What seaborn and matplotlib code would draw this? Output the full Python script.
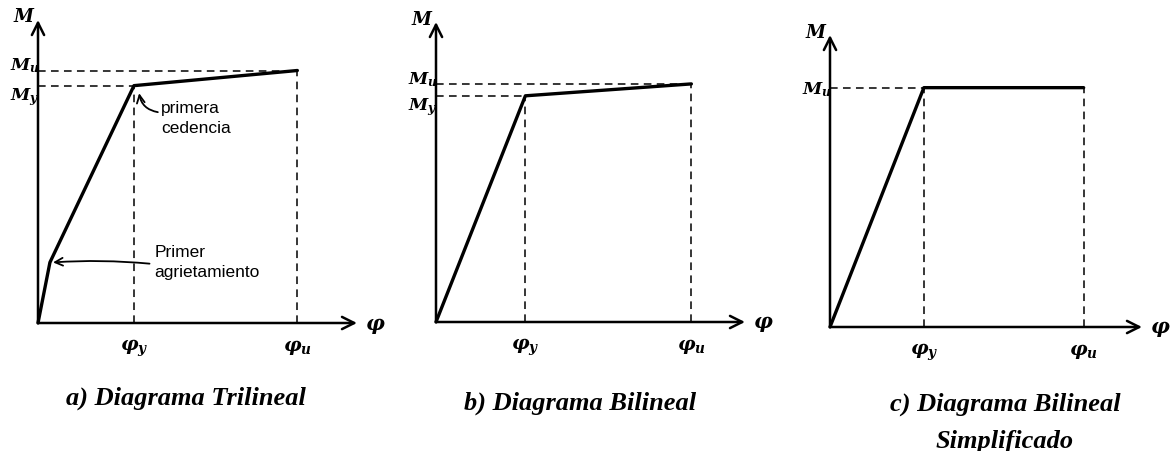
import matplotlib
matplotlib.use("Agg")
import matplotlib.pyplot as plt
from matplotlib.patches import FancyArrowPatch
import seaborn as sns

# curvatura (normalizada con phi_u = 1) y momento (normalizado con M_u = 1)
phi_a = [0, 0.046, 0.37, 1.0]
M_a = [0, 0.24, 0.94, 1.0]
phi_b = [0, 0.35, 1.0]
M_b = [0, 0.95, 1.0]
phi_c = [0, 0.37, 1.0]
M_c = [0, 1.0, 1.0]

xticklabels = [r'$\varphi_y$', r'$\varphi_u$']
yticklabels_ab = [r'$M_y$', r'$M_u$']
yticklabels_c = [r'$M_u$']
titles = ['a) Diagrama Trilineal', 'b) Diagrama Bilineal',
          'c) Diagrama Bilineal\nSimplificado']

sns.set_style('white')
plt.rcParams['font.family'] = ['Liberation Sans', 'DejaVu Sans']
plt.rcParams['mathtext.fontset'] = 'custom'
plt.rcParams['mathtext.it'] = 'DejaVu Serif:italic:bold'
plt.rcParams['mathtext.rm'] = 'DejaVu Serif:bold'
plt.rcParams['text.color'] = 'black'
plt.rcParams['xtick.color'] = 'black'
plt.rcParams['ytick.color'] = 'black'

W, H = 1175, 451
fig = plt.figure(figsize=(W / 100, H / 100), dpi=100)


def px_axes(x0, y0, w, h):
    # origen en pixeles (x0, y0 desde arriba)
    return fig.add_axes([x0 / W, (H - y0) / H, w / W, h / H])


def arrow(ax, p0, p1, lw, ms, rad=0.0):
    a = FancyArrowPatch(p0, p1, arrowstyle='->', lw=lw, mutation_scale=ms,
                        connectionstyle=f'arc3,rad={rad}', shrinkA=0,
                        shrinkB=0, color='black', transform=ax.transData,
                        clip_on=False, zorder=5)
    ax.add_patch(a)


def panel(ax, phi, M, xmax, ymax, ylabels):
    ax.set_xlim(0, xmax)
    ax.set_ylim(0, ymax)
    for s in ax.spines.values():
        s.set_visible(False)
    dash = (0, (5, 3.5))
    py, my = phi[-2], M[-2]
    pu, mu = phi[-1], M[-1]
    ax.plot([0, py], [my, my], color='black', lw=1.1, ls=dash)
    ax.plot([py, py], [0, my], color='black', lw=1.1, ls=dash)
    if mu != my:
        ax.plot([0, pu], [mu, mu], color='black', lw=1.1, ls=dash)
    ax.plot([pu, pu], [0, mu], color='black', lw=1.1, ls=dash)
    sns.lineplot(x=phi, y=M, ax=ax, sort=False, color='black', lw=2.4)
    for ln in ax.lines:
        ln.set_clip_on(False)
    # ejes con flecha
    arrow(ax, (0, 0), (xmax, 0), 1.8, 22)
    arrow(ax, (0, 0), (0, ymax), 1.8, 22)
    ax.set_xticks([py, pu], xticklabels)
    if mu != my:
        ax.set_yticks([my, mu], ylabels)
        lab = ax.get_yticklabels()
        lab[0].set_verticalalignment('top')
        lab[1].set_verticalalignment('baseline')
    else:
        ax.set_yticks([mu], ylabels)
    ax.tick_params(length=0, labelcolor='black')
    ax.tick_params(axis='x', pad=11, labelsize=14)
    ax.tick_params(axis='y', pad=-1, labelsize=12.5)
    ax.text(-0.01, ymax + 0.01, r'$M$', fontsize=13, ha='right', va='center')
    ax.text(xmax + 0.03, -0.01, r'$\varphi$', fontsize=15, ha='left',
            va='center')


ax_a = px_axes(38, 323, 319, 303)
panel(ax_a, phi_a, M_a, 1.23, 1.20, yticklabels_ab)
ax_a.text(0.475, 0.81, 'primera\ncedencia', fontsize=12.5, ha='left',
          va='center', linespacing=1.35)
arrow(ax_a, (0.462, 0.835), (0.39, 0.91), 1.3, 14, rad=-0.35)
ax_a.text(0.45, 0.24, 'Primer\nagrietamiento', fontsize=12.5, ha='left',
          va='center', linespacing=1.35)
arrow(ax_a, (0.43, 0.235), (0.058, 0.24), 1.3, 14, rad=0.04)

ax_b = px_axes(436, 322, 309, 300)
panel(ax_b, phi_b, M_b, 1.21, 1.26, yticklabels_ab)

ax_c = px_axes(830, 327, 312, 292)
panel(ax_c, phi_c, M_c, 1.23, 1.22, yticklabels_c)

# lineas base de los titulos (pixeles desde arriba)
title_pos = [(186, 405), (580, 410), (1005, 411)]
for t, (x, y) in zip(titles, title_pos):
    for i, line in enumerate(t.split('\n')):
        fig.text(x / W, 1 - (y + 37 * i) / H, line, fontsize=19,
                 fontweight='bold', fontstyle='italic', color='black',
                 family=['Liberation Serif', 'DejaVu Serif'],
                 ha='center', va='baseline')

fig.savefig('out.png', dpi=100)
